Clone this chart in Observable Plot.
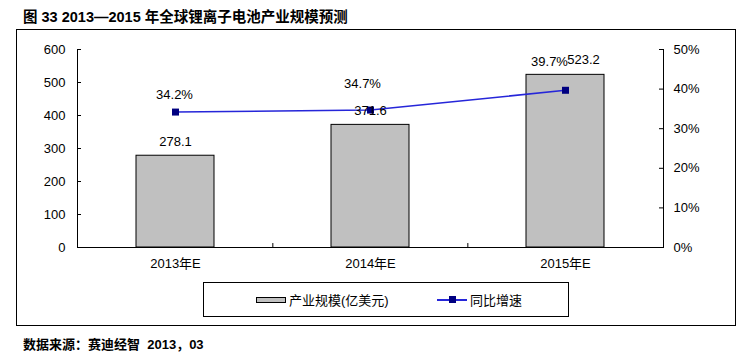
<!DOCTYPE html>
<html><head><meta charset="utf-8">
<script src="https://cdn.jsdelivr.net/npm/d3@7"></script>
<script src="https://cdn.jsdelivr.net/npm/@observablehq/plot@0.6"></script>
<style>
body{margin:0;background:#fff;}
#root{position:relative;width:756px;height:360px;overflow:hidden;font-family:"Liberation Sans",Arial,"Noto Sans CJK SC",sans-serif;color:#000;}
#title{position:absolute;left:23px;top:8px;font-size:14.5px;font-weight:bold;line-height:18px;white-space:nowrap;font-family:"Liberation Sans",Arial,"Noto Sans CJK SC",sans-serif;}
#frame{position:absolute;left:16px;top:29px;width:720px;height:297px;border:1px solid #000;box-sizing:border-box;}
#chart{position:absolute;left:0;top:29px;}
#legend{position:absolute;left:203px;top:282px;width:366px;height:35px;border:1px solid #000;box-sizing:border-box;font-size:13px;}
#legend .item{position:absolute;top:0;height:33px;display:flex;align-items:center;white-space:nowrap;}
#legend .swbar{width:30px;height:6px;background:#c0c0c0;border:1px solid #000;box-sizing:border-box;margin-right:3px;}
#legend .swline{position:relative;width:30px;height:2px;background:#2626d9;margin-right:3px;}
#legend .swline i{position:absolute;left:12px;top:-3px;width:7px;height:7px;background:#000080;}
#source{position:absolute;left:23px;top:336px;font-size:13px;font-weight:bold;line-height:18px;white-space:pre;}
</style></head><body>
<div id="root">
  <div id="title">图 33 2013—2015 年全球锂离子电池产业规模预测</div>
  <div id="frame"></div>
  <div id="chart"></div>
  <div id="legend"></div>
  <div id="source">数据来源：赛迪经智  2013，03</div>
</div>
<script>
const categories = ["2013年E", "2014年E", "2015年E"];
const scaleValues = [278.1, 371.6, 523.2];
const growthPct = [34.2, 34.7, 39.7];
const leftTicks = [0, 100, 200, 300, 400, 500, 600];
const rightTicks = [0, 10, 20, 30, 40, 50];
const seriesNames = ["产业规模(亿美元)", "同比增速"];

const ratio = 600 / 50;
const data = categories.map((c, i) => ({cat: c, value: scaleValues[i], pct: growthPct[i]}));

const W = 756, H = 253, mL = 77, mR = 93, mT = 20, mB = 35;
const plotW = W - mL - mR;
const step = plotW / 3;
const font = '"Liberation Sans", Arial, "Noto Sans CJK SC", sans-serif';
const lineColor = "#2626d9";

const barLabel = (i, dx, dy) => Plot.text(data.filter((d, j) => j === i), {
  x: "cat", y: "value", text: d => d.value.toFixed(1), dx, dy, fontSize: 13, fill: "#000"
});
const pctLabel = (i, dx, dy) => Plot.text(data.filter((d, j) => j === i), {
  x: "cat", y: d => d.pct * ratio, text: d => d.pct.toFixed(1) + "%", dx, dy, fontSize: 13, fill: "#000"
});

const chart = Plot.plot({
  width: W, height: H,
  marginLeft: mL, marginRight: mR, marginTop: mT, marginBottom: mB,
  style: {fontFamily: font, fontSize: "13px", color: "#000", background: "transparent"},
  x: {domain: categories, paddingInner: 0.6, paddingOuter: 0.3, label: null},
  y: {domain: [0, 600], label: null},
  marks: [
    Plot.barY(data, {x: "cat", y: "value", fill: "#c0c0c0", stroke: "#000", strokeWidth: 1}),
    Plot.frame({anchor: "left", stroke: "#000"}),
    Plot.frame({anchor: "right", stroke: "#000"}),
    Plot.ruleY([0], {stroke: "#000"}),
    Plot.tickY(leftTicks, {y: d => d, insetRight: plotW - 4, stroke: "#000"}),
    Plot.tickY(rightTicks.map(p => p * ratio), {y: d => d, insetLeft: plotW - 4, stroke: "#000"}),
    Plot.ruleX(categories.slice(1), {x: d => d, dx: -step / 2, y1: 0, y2: 12, stroke: "#000"}),
    Plot.axisY({ticks: leftTicks, tickSize: 0, tickPadding: 12, fontSize: 13, label: null}),
    Plot.axisY({anchor: "right", ticks: rightTicks.map(p => p * ratio), tickFormat: d => (d / ratio) + "%", tickSize: 0, tickPadding: 10, fontSize: 13, label: null}),
    Plot.axisX({tickSize: 0, tickPadding: 11, fontSize: 13, label: null}),
    Plot.line(data, {x: "cat", y: d => d.pct * ratio, stroke: lineColor, strokeWidth: 1.5}),
    Plot.dot(data, {x: "cat", y: d => d.pct * ratio, symbol: "square", r: 3.95, fill: "#000080", stroke: "none"}),
    barLabel(0, 0, -14),
    barLabel(1, 0, -14),
    barLabel(2, 18, -15),
    pctLabel(0, -1, -17),
    pctLabel(1, -8, -26),
    pctLabel(2, -16, -28)
  ]
});
document.getElementById("chart").appendChild(chart);

const legend = document.getElementById("legend");
legend.innerHTML =
  `<div class="item" style="left:52px"><span class="swbar"></span><span>${seriesNames[0]}</span></div>` +
  `<div class="item" style="left:233px"><span class="swline"><i></i></span><span>${seriesNames[1]}</span></div>`;
</script>
</body></html>
